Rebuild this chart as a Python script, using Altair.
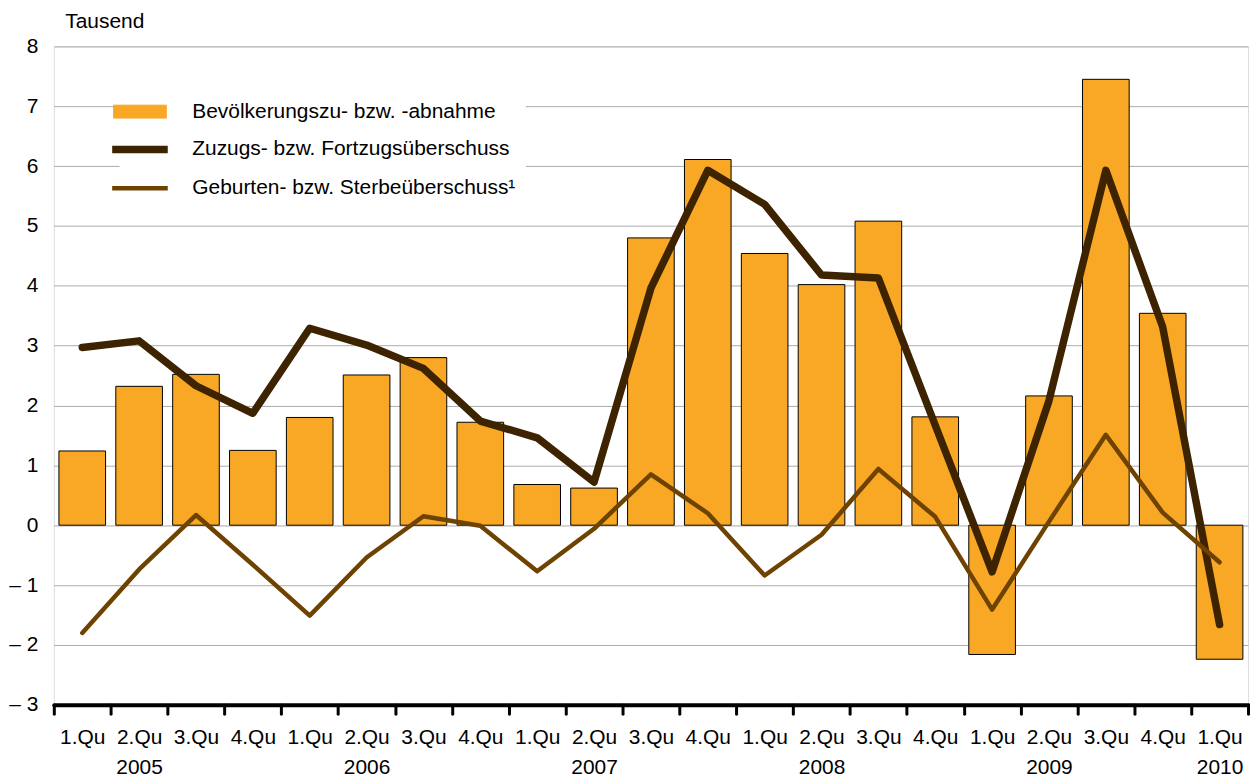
import altair as alt
import pandas as pd

quarters = ["1.Qu", "2.Qu", "3.Qu", "4.Qu"] * 5 + ["1.Qu"]
year_labels = ["", "2005", "", "", "", "2006", "", "", "", "2007", "", "",
               "", "2008", "", "", "", "2009", "", "", "2010"]

bevoelkerung = [1.24, 2.32, 2.52, 1.25, 1.80, 2.51, 2.80, 1.72, 0.68, 0.62, 4.80,
                6.11, 4.54, 4.02, 5.08, 1.81, -2.16, 2.16, 7.45, 3.54, -2.24]
zuzug = [2.97, 3.08, 2.33, 1.87, 3.29, 3.01, 2.62, 1.74, 1.46, 0.72, 3.96,
         5.93, 5.36, 4.18, 4.13, 1.67, -0.78, 2.08, 5.93, 3.31, -1.66]
geburten = [-1.80, -0.74, 0.17, -0.66, -1.51, -0.54, 0.15, -0.01, -0.77, -0.06, 0.85,
            0.20, -0.84, -0.16, 0.94, 0.14, -1.41, 0.06, 1.51, 0.21, -0.62]

series_names = ["Bevölkerungszu- bzw. -abnahme",
                "Zuzugs- bzw. Fortzugsüberschuss",
                "Geburten- bzw. Sterbeüberschuss¹"]
series_colors = ["#F9A825", "#3D2300", "#6E4200"]

cats = [f"{i:02d}|{q}|{y}" for i, (q, y) in enumerate(zip(quarters, year_labels))]

def frame(values, name):
    return pd.DataFrame({"cat": cats, "value": values, "series": name})

df_bar = frame(bevoelkerung, series_names[0])
df_z = frame(zuzug, series_names[1])
df_g = frame(geburten, series_names[2])

FONT = "Liberation Sans"
FS = 21
A, B, C = series_names

x_enc = alt.X(
    "cat:N", sort=None, title=None,
    scale=alt.Scale(paddingInner=0, paddingOuter=0),
    axis=alt.Axis(
        labelExpr="[split(datum.label, '|')[1], split(datum.label, '|')[2]]",
        labelAngle=0, labelFont=FONT, labelFontSize=FS, labelColor="black",
        labelPadding=13, labelLineHeight=30,
        domain=True, domainColor="black", domainWidth=4, domainCap="round",
        ticks=True, tickBand="extent", tickSize=9, tickWidth=3, tickColor="black",
        tickCap="round", grid=False,
    ),
)

y_enc = alt.Y(
    "value:Q",
    scale=alt.Scale(domain=[-3, 8], nice=False, zero=False),
    axis=alt.Axis(
        values=list(range(-3, 9)),
        labelExpr="datum.value < 0 ? '– ' + abs(datum.value) : '' + datum.value",
        labelFont=FONT, labelFontSize=FS, labelColor="black", labelPadding=16,
        domain=False, ticks=False, grid=True, gridColor="#ABABAB", gridWidth=1,
        title="Tausend", titleAngle=0, titleAlign="left", titleBaseline="alphabetic",
        titleX=11, titleY=-19, titleFont=FONT, titleFontSize=FS,
        titleFontWeight="normal", titleColor="black",
    ),
)

color_scale = alt.Scale(domain=series_names, range=series_colors)

legend = alt.Legend(
    title=None, orient="none", legendX=66, legendY=45,
    fillColor="white", padding=10,
    symbolSize=1296,
    symbolType={"expr": f"datum.value === '{A}' ? 'M-1.47,-0.36H1.47V0.36H-1.47Z' : 'M-1.55,0H1.55'"},
    symbolStrokeColor={"expr": f"datum.value === '{A}' ? '#333333' : (datum.value === '{B}' ? '#3D2300' : '#6E4200')"},
    symbolStrokeWidth={"expr": f"datum.value === '{A}' ? 1 : (datum.value === '{B}' ? 7.5 : 4.5)"},
    labelFont=FONT, labelFontSize=FS, labelColor="black", labelOffset=42,
    labelLimit=600, rowPadding=12,
)

bars = alt.Chart(df_bar).mark_bar(
    width=alt.RelativeBandSize(0.82), stroke="black", strokeWidth=1
).encode(
    x=x_enc, y=y_enc,
    color=alt.Color("series:N", scale=color_scale, legend=legend),
)

line_z = alt.Chart(df_z).mark_line(
    strokeWidth=7.5, strokeCap="round", strokeJoin="round"
).encode(
    x=x_enc, y=y_enc,
    color=alt.Color("series:N", scale=color_scale, legend=None),
)

line_g = alt.Chart(df_g).mark_line(
    strokeWidth=4.5, strokeCap="round", strokeJoin="round"
).encode(
    x=x_enc, y=y_enc,
    color=alt.Color("series:N", scale=color_scale, legend=None),
)

chart = alt.layer(bars, line_z, line_g).properties(
    width=1199, height=661,
    autosize=alt.AutoSizeParams(type="none"),
    padding={"left": 46, "top": 37, "right": 2, "bottom": 72},
).configure_view(stroke=None).configure(font=FONT)

chart.save("out.html", embed_options={"renderer": "svg", "actions": False})
